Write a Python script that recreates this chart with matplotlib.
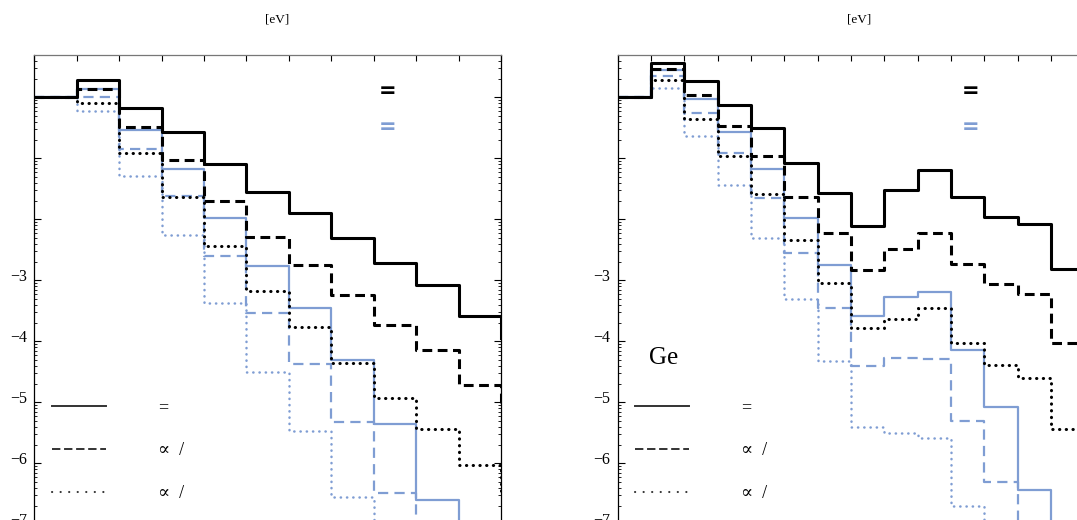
import numpy as np
import matplotlib
matplotlib.use('Agg')
import matplotlib.pyplot as plt
from matplotlib.lines import Line2D
from matplotlib.ticker import FixedLocator, LogLocator, NullFormatter
from matplotlib.transforms import ScaledTranslation

plt.rcParams['font.family'] = ['Liberation Serif', 'DejaVu Serif']

BLUE = '#7f9dd3'

# log10 of each bin value, last entry = level after the final bin edge
left_black_solid = [0, 0.28, -0.17, -0.57, -1.09, -1.55, -1.89, -2.30, -2.72, -3.07, -3.58, -3.95]
left_black_dash = [0, 0.14, -0.48, -1.02, -1.70, -2.29, -2.75, -3.24, -3.74, -4.15, -4.71, -5.10]
left_black_dot = [0, -0.09, -0.92, -1.63, -2.43, -3.17, -3.76, -4.35, -4.93, -5.43, -6.03, -6.50]
left_blue_solid = [0, 0.13, -0.54, -1.18, -1.98, -2.77, -3.46, -4.31, -5.35, -6.60, -7.70, -8.50]
left_blue_dash = [0, 0.0, -0.84, -1.62, -2.60, -3.54, -4.37, -5.33, -6.48, -7.60, -8.50, -9.30]
left_blue_dot = [0, -0.22, -1.29, -2.25, -3.38, -4.50, -5.47, -6.56, -7.70, -8.70, -9.60, -10.4]

right_black_solid = [0, 0.56, 0.27, -0.12, -0.51, -1.08, -1.57, -2.11, -1.52, -1.20, -1.64, -1.96, -2.07, -2.82, -2.90]
right_black_dash = [0, 0.46, 0.03, -0.47, -0.97, -1.63, -2.22, -2.83, -2.48, -2.23, -2.73, -3.06, -3.23, -4.02, -4.10]
right_black_dot = [0, 0.28, -0.36, -0.97, -1.59, -2.34, -3.05, -3.78, -3.63, -3.46, -4.02, -4.39, -4.60, -5.44, -5.50]
right_blue_solid = [0, 0.44, -0.02, -0.57, -1.18, -1.98, -2.75, -3.58, -3.28, -3.20, -4.14, -5.07, -6.44, -7.40, -7.60]
right_blue_dash = [0, 0.35, -0.25, -0.92, -1.65, -2.55, -3.46, -4.41, -4.28, -4.29, -5.31, -6.30, -7.40, -8.00, -8.20]
right_blue_dot = [0, 0.16, -0.63, -1.43, -2.30, -3.30, -4.33, -5.41, -5.51, -5.58, -6.70, -7.60, -8.20, -8.80, -9.00]

decades = list(range(-8, 1))
decade_labels = ['\u2212%d' % -k if k <= -3 else '' for k in decades]
legend_labels = ['=', '\u221d  /', '\u221d  /']

W, H = 1077, 520
fig = plt.figure(figsize=[W / 100, H / 100], dpi=100)

y_top = 10 ** 0.6934
ax_bottom = (H - 585.3) / H
ax_height = (1 - 55 / H) - ax_bottom

def styleSteps(ax, series, nbins):
    edges = np.arange(len(series[0]))
    bs, bd, bo, us, ud, uo = series
    ax.step(edges, 10.0 ** np.array(uo), where='post', color=BLUE, lw=1.8,
            linestyle=(0, (0.1, 2.4)), dash_capstyle='round')
    ax.step(edges, 10.0 ** np.array(ud), where='post', color=BLUE, lw=1.6,
            linestyle=(0, (4.6, 2.8)))
    ax.step(edges, 10.0 ** np.array(us), where='post', color=BLUE, lw=1.6)
    ax.step(edges, 10.0 ** np.array(bo), where='post', color='black', lw=2.2,
            linestyle=(0, (0.1, 2.1)), dash_capstyle='round')
    ax.step(edges, 10.0 ** np.array(bd), where='post', color='black', lw=2.2,
            linestyle=(0, (3.2, 1.8)))
    ax.step(edges, 10.0 ** np.array(bs), where='post', color='black', lw=2.2)

    ax.set_yscale('log')
    ax.set_xlim(0, nbins)
    ax.set_ylim(1e-8, y_top)
    ax.xaxis.set_major_locator(FixedLocator(np.arange(nbins + 1)))
    ax.tick_params(axis='x', which='both', direction='in', top=True, bottom=True,
                   labeltop=False, labelbottom=False, length=4, width=0.8)
    ax.yaxis.set_major_locator(FixedLocator([10.0 ** k for k in decades]))
    ax.set_yticklabels(decade_labels)
    ax.yaxis.set_minor_locator(LogLocator(base=10, subs=np.arange(2, 10), numticks=30))
    ax.yaxis.set_minor_formatter(NullFormatter())
    ax.tick_params(axis='y', which='major', direction='in', left=True, right=True,
                   length=5, width=0.8, labelsize=11.5, pad=5)
    ax.tick_params(axis='y', which='minor', direction='in', left=True, right=True,
                   length=2.5, width=0.6)
    # labels sit a little above their tick, as in the original
    shift = ScaledTranslation(0, 0.05, fig.dpi_scale_trans)
    for lbl in ax.get_yticklabels():
        lbl.set_transform(lbl.get_transform() + shift)
    ax.spines['top'].set_color('#777777')
    for side in ['left', 'right', 'bottom']:
        ax.spines[side].set_color('black')
    for sp in ax.spines.values():
        sp.set_linewidth(0.9)

def addLegend(ax, x_px):
    handles = [
        Line2D([], [], color='#333333', lw=1.4),
        Line2D([], [], color='#333333', lw=1.4, linestyle=(0, (4.3, 1.9))),
        Line2D([], [], color='#333333', lw=1.5, linestyle=(0, (0.1, 4.0)), dash_capstyle='round'),
    ]
    ax.legend(handles, legend_labels, loc='upper left', frameon=False, fontsize=13,
              bbox_to_anchor=(x_px / W, 1 - 399 / H), bbox_transform=fig.transFigure,
              handlelength=3.0, handletextpad=2.85, labelspacing=1.45,
              borderpad=0, borderaxespad=0)

ax1 = fig.add_axes([34.4 / W, ax_bottom, 466.6 / W, ax_height])
styleSteps(ax1, [left_black_solid, left_black_dash, left_black_dot,
                 left_blue_solid, left_blue_dash, left_blue_dot], 11)
addLegend(ax1, 52)

ax2 = fig.add_axes([617.5 / W, ax_bottom, 467.0 / W, ax_height])
styleSteps(ax2, [right_black_solid, right_black_dash, right_black_dot,
                 right_blue_solid, right_blue_dash, right_blue_dot], 14)
addLegend(ax2, 635)

# top labels and marker texts
fig.text(277 / W, 1 - 19 / H, '[eV]', fontsize=9.5, ha='center', va='center')
fig.text(859.5 / W, 1 - 19 / H, '[eV]', fontsize=9.5, ha='center', va='center')
for xc in [388, 971]:
    fig.text(xc / W, 1 - 90.5 / H, '=', fontsize=15, fontweight='bold', color='black',
             ha='center', va='center', family='DejaVu Sans')
    fig.text(xc / W, 1 - 127.5 / H, '=', fontsize=15, fontweight='bold', color=BLUE,
             ha='center', va='center', family='DejaVu Sans')
fig.text(664 / W, 1 - 358 / H, 'Ge', fontsize=18, ha='center', va='center')

fig.savefig('out.png', dpi=100, facecolor='white')
